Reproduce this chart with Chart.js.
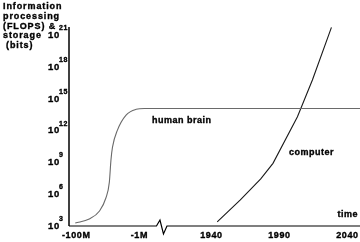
<!DOCTYPE html>
<html>
<head>
<meta charset="utf-8">
<script src="https://cdn.jsdelivr.net/npm/chart.js@4.4.1/dist/chart.umd.min.js"></script>
<style>
  body { margin: 0; background: #fff; }
  canvas { display: block; }
</style>
</head>
<body>
<canvas id="grafik" width="360" height="242"></canvas>
<script>
// tick labels
const xTickLabels = ['-100M', '-1M', '1940', '1990', '2040'];
const xTickTimes = [-100e6, -1e6, 1940, 1990, 2040];
const yTickValues = [1e3, 1e6, 1e9, 1e12, 1e15, 1e18, 1e21];
const titleLines = ['Information', 'processing', '(FLOPS) &', 'storage', '(bits)'];

// human brain (negative time = years ago)
const brainTime = [-100e6, -36e6, -17e6, -10.7e6, -8.3e6, -7.4e6, -6.6e6, -4.6e6, -2.45e6, -1.17e6, -0.65e6, 2050];
const brainBits = [1.9e3, 4.6e3, 2.6e4, 4.4e5, 1.4e7, 1.6e9, 2.8e10, 1.15e12, 3e13, 1.05e14, 1.25e14, 1.25e14];

// computer
const computerYear = [1945, 1962, 1977, 1986, 2004, 2015, 2029];
const computerBits = [2.4e3, 2.9e5, 2.8e7, 8.3e8, 2.1e13, 6.2e16, 5.8e21];

// the left part of the time axis is log time (years ago), squeezed before the break
const X_MINUS_1M = 1887;
const X_PER_DECADE = 23.2;
const X_BREAK = 1904;

function timeToX(t) {
    if (t < 0) return X_MINUS_1M - (Math.log10(-t) - 6) * X_PER_DECADE;
    return t;
}

const FONT = '"Liberation Sans", Arial, sans-serif';

// teks tebal: isi + garis tipis
function boldText(ctx, text, x, y) {
    ctx.fillText(text, x, y);
    ctx.strokeText(text, x, y);
}

// sumbu, label dan teks digambar sendiri
const axesPlugin = {
    id: 'axesPlugin',
    afterDraw(chart) {
        const ctx = chart.ctx;
        const area = chart.chartArea;
        const xs = chart.scales.x;
        const ys = chart.scales.y;
        ctx.save();
        ctx.strokeStyle = '#000';
        ctx.fillStyle = '#000';
        ctx.lineWidth = 1.5;

        // y axis
        ctx.beginPath();
        ctx.moveTo(area.left, area.top);
        ctx.lineTo(area.left, area.bottom);
        ctx.stroke();

        // x axis with break
        const bx = xs.getPixelForValue(X_BREAK);
        const by = area.bottom;
        ctx.lineWidth = 1.2;
        ctx.beginPath();
        ctx.moveTo(area.left, by);
        ctx.lineTo(bx - 5, by);
        ctx.lineTo(bx - 1.5, by - 6);
        ctx.lineTo(bx + 2, by + 8);
        ctx.lineTo(bx + 5.5, by);
        ctx.lineTo(area.right, by);
        ctx.stroke();

        ctx.lineWidth = 0.35;
        ctx.letterSpacing = '0.6px';

        // x tick labels
        ctx.font = 'bold 9px ' + FONT;
        ctx.textAlign = 'center';
        ctx.textBaseline = 'middle';
        xTickTimes.forEach((t, i) => {
            boldText(ctx, xTickLabels[i], xs.getPixelForValue(timeToX(t)) + 1, 236);
        });

        // y tick labels 10^n
        yTickValues.forEach(v => {
            const py = ys.getPixelForValue(v);
            const exp = String(Math.round(Math.log10(v)));
            ctx.font = 'bold 9.5px ' + FONT;
            ctx.textAlign = 'left';
            boldText(ctx, '10', area.left - 21, py);
            ctx.font = 'bold 7px ' + FONT;
            boldText(ctx, exp, area.left - 10, py - 7);
        });

        // title
        ctx.font = 'bold 9px ' + FONT;
        ctx.letterSpacing = '0.9px';
        ctx.textAlign = 'left';
        titleLines.forEach((line, i) => {
            boldText(ctx, line, i === 4 ? 6 : 3, 7 + i * 9.6);
        });

        // annotations
        ctx.letterSpacing = '0.5px';
        boldText(ctx, 'human brain', 152, 121);
        boldText(ctx, 'computer', 289, 153);
        ctx.textAlign = 'right';
        boldText(ctx, 'time', 358, 215);
        ctx.restore();
    }
};

new Chart(document.getElementById('grafik'), {
    type: 'line',
    data: {
        datasets: [{
            label: 'human brain',
            data: brainTime.map((t, i) => ({ x: timeToX(t), y: brainBits[i] })),
            borderColor: '#6a6a6a',
            borderWidth: 1.1,
            pointRadius: 0,
            cubicInterpolationMode: 'monotone',
            fill: false
        }, {
            label: 'computer',
            data: computerYear.map((t, i) => ({ x: t, y: computerBits[i] })),
            borderColor: '#1a1a1a',
            borderWidth: 1.1,
            pointRadius: 0,
            tension: 0,
            fill: false
        }]
    },
    options: {
        responsive: false,
        animation: false,
        layout: { padding: { left: 69, right: 0, top: 27, bottom: 16 } },
        scales: {
            x: { type: 'linear', min: 1836, max: 2050, display: false },
            y: { type: 'logarithmic', min: 1e3, max: Math.pow(10, 21.8), display: false }
        },
        plugins: {
            legend: { display: false },
            tooltip: { enabled: false }
        }
    },
    plugins: [axesPlugin]
});
</script>
</body>
</html>
